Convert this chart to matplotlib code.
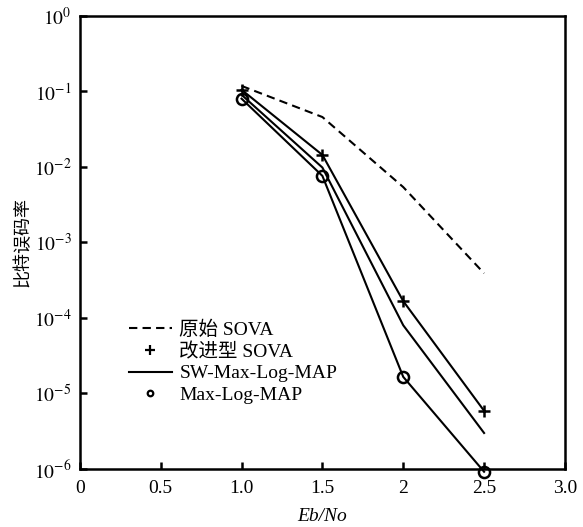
import math
import matplotlib
matplotlib.use("Agg")
import matplotlib.pyplot as plt
from matplotlib.lines import Line2D

plt.rcParams['font.family'] = ['Liberation Serif', 'Noto Sans CJK SC']
plt.rcParams['mathtext.fontset'] = 'stix'

# Data
ebno = [1.0, 1.5, 2.0, 2.5]
ber_sova = [0.118, 0.0457, 0.0054, 0.00039]
ber_sova_improved = [0.105, 0.0144, 0.000167, 5.9e-6]
ber_sw_maxlogmap = [0.09, 0.0098, 8.0e-5, 3.0e-6]
ber_maxlogmap = [0.08, 0.0076, 1.66e-5, 0.92e-6]

labels = ['原始 SOVA', '改进型 SOVA', 'SW-Max-Log-MAP', 'Max-Log-MAP']
xticks = [0, 0.5, 1.0, 1.5, 2.0, 2.5, 3.0]
xtick_labels = ['0', '0.5', '1.0', '1.5', '2', '2.5', '3.0']
yticks = [1e-6, 1e-5, 1e-4, 1e-3, 1e-2, 1e-1, 1e0]

fig = plt.figure(figsize=(5.83, 5.27), dpi=100)
ax = fig.add_axes([0.137, 0.110, 0.832, 0.860])

lw = 1.5
ax.plot(ebno, ber_sova, color='black', lw=lw, linestyle=(0, (4, 2.5)))
ax.plot(ebno, ber_sova_improved, color='black', lw=lw, marker='+',
        markersize=9, markeredgewidth=1.8)
ax.plot(ebno, ber_sw_maxlogmap, color='black', lw=lw)
ax.plot(ebno, ber_maxlogmap, color='black', lw=lw, marker='o',
        markersize=8, markerfacecolor='none', markeredgewidth=1.8,
        clip_on=False)

ax.set_yscale('log')
ax.set_xlim(0, 3.0)
ax.set_ylim(1e-6, 1e0)
ax.set_xticks(xticks)
ax.set_xticklabels(xtick_labels)
ax.set_yticks(yticks)
ax.set_yticklabels([f'$10^{{{int(round(math.log10(v)))}}}$' for v in yticks])
ax.minorticks_off()
ax.tick_params(direction='in', length=5, width=1.8, labelsize=14)
ax.tick_params(axis='x', pad=8)
ax.tick_params(axis='y', pad=6)

for s in ax.spines.values():
    s.set_linewidth(1.8)

ax.set_xlabel('Eb/No', fontsize=14, style='italic', labelpad=8)
ax.set_ylabel('比特误码率', fontsize=13, labelpad=2)

handles = [
    Line2D([], [], color='black', lw=lw, linestyle=(0, (4, 2.5))),
    Line2D([], [], color='black', lw=0, marker='+', markersize=7, markeredgewidth=1.6),
    Line2D([], [], color='black', lw=lw),
    Line2D([], [], color='black', lw=0, marker='o', markersize=4,
           markerfacecolor='none', markeredgewidth=1.6),
]
ax.legend(handles, labels, loc='upper left', bbox_to_anchor=(0.085, 0.345),
          frameon=False, fontsize=14, handlelength=2.2, handletextpad=0.4,
          labelspacing=0.2, borderaxespad=0)

fig.savefig('out.png', dpi=100)
